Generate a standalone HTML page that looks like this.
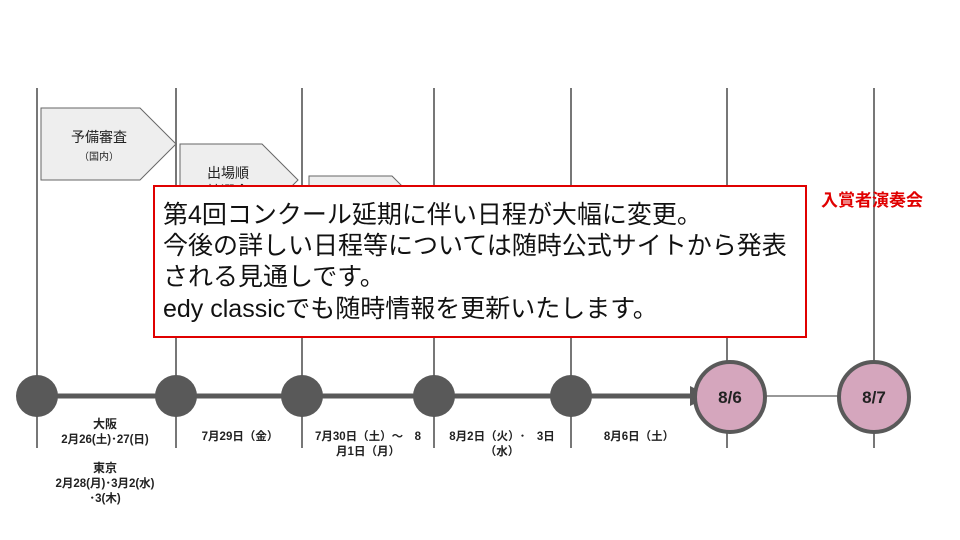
<!DOCTYPE html>
<html><head><meta charset="utf-8"><style>
body{margin:0;width:960px;height:540px;background:#fff;overflow:hidden;font-family:"Liberation Sans","Noto Sans CJK JP",sans-serif}
</style></head><body>
<svg width="960" height="540" xmlns="http://www.w3.org/2000/svg" style="position:absolute;left:0;top:0;font-family:'Liberation Sans','Noto Sans CJK JP',sans-serif">
<g stroke="#777" stroke-width="2">
<line x1="37" y1="88" x2="37" y2="448"/>
<line x1="176" y1="88" x2="176" y2="448"/>
<line x1="302" y1="88" x2="302" y2="448"/>
<line x1="434" y1="88" x2="434" y2="448"/>
<line x1="571" y1="88" x2="571" y2="448"/>
<line x1="727" y1="88" x2="727" y2="448"/>
<line x1="874" y1="88" x2="874" y2="448"/>
</g>
<g fill="#eeeeee" stroke="#666" stroke-width="1">
<polygon points="41,108 140,108 176,144 140,180 41,180"/>
<polygon points="180,144 262,144 298,180 262,216 180,216"/>
<polygon points="309,176 392,176 428,212 392,248 309,248"/>
</g>
<text x="99" y="142" font-size="14" text-anchor="middle" fill="#222">予備審査</text>
<text x="99" y="160" font-size="10" text-anchor="middle" fill="#222">（国内）</text>
<text x="207" y="178" font-size="14" fill="#222">出場順</text>
<text x="207" y="196" font-size="14" fill="#222">抽選会</text>
<line x1="37" y1="396" x2="690" y2="396" stroke="#595959" stroke-width="5"/>
<polygon points="690,386 710,396 690,406" fill="#595959"/>
<line x1="765" y1="396" x2="838" y2="396" stroke="#777" stroke-width="1.5"/>
<g fill="#595959">
<circle cx="37" cy="396" r="21"/><circle cx="176" cy="396" r="21"/><circle cx="302" cy="396" r="21"/><circle cx="434" cy="396" r="21"/><circle cx="571" cy="396" r="21"/>
</g>
<g fill="#d5a6bd" stroke="#595959" stroke-width="4">
<circle cx="730" cy="397" r="35"/><circle cx="874" cy="397" r="35"/>
</g>
<g font-weight="bold" fill="#222" text-anchor="middle">
<text x="730" y="403" font-size="17">8/6</text>
<text x="874" y="403" font-size="17">8/7</text>
<g font-size="11.5">
<text x="105" y="428" font-size="12">大阪</text>
<text x="105" y="443">2月26(土)･27(日)</text>
<text x="105" y="472" font-size="12">東京</text>
<text x="105" y="487">2月28(月)･3月2(水)</text>
<text x="105" y="502">･3(木)</text>
<text x="240" y="440">7月29日（金）</text>
<text x="368" y="440">7月30日（土）～　8</text>
<text x="368" y="455">月1日（月）</text>
<text x="502" y="440">8月2日（火）･　3日</text>
<text x="502" y="455">（水）</text>
<text x="639" y="440">8月6日（土）</text>
</g>
<text x="872" y="206" font-size="17" fill="#e00000">入賞者演奏会</text>
</g>
<rect x="154" y="186" width="652" height="151" fill="#fff" stroke="#e00000" stroke-width="2"/>
<g font-size="25" fill="#111">
<text x="163" y="223">第4回コンクール延期に伴い日程が大幅に変更。</text>
<text x="163" y="254">今後の詳しい日程等については随時公式サイトから発表</text>
<text x="163" y="285">される見通しです。</text>
<text x="163" y="317">edy classicでも随時情報を更新いたします。</text>
</g>
</svg>
</body></html>
